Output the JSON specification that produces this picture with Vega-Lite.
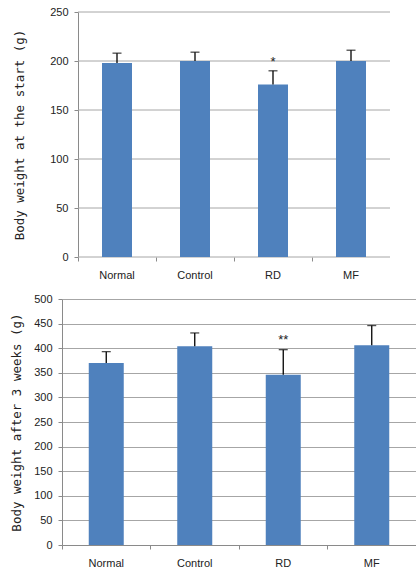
{
  "$schema": "https://vega.github.io/schema/vega-lite/v6.json",
  "background": "white",
  "padding": {"left": 10, "top": 6, "right": 0, "bottom": 0},
  "spacing": 13,
  "config": {
    "view": {"stroke": null},
    "axis": {
      "labelFont": "Liberation Sans",
      "labelFontSize": 11,
      "labelColor": "#222222",
      "labelOverlap": false,
      "titleFont": "DejaVu Sans Mono",
      "titleFontSize": 12.5,
      "titleFontWeight": "normal",
      "titleColor": "#222222",
      "domainColor": "#8a8a8a",
      "tickColor": "#8a8a8a",
      "gridColor": "#a6a6a6",
      "tickSize": 4
    }
  },
  "vconcat": [
    {
      "width": 328,
      "height": 245,
      "data": {"values": [
        {"group": "Normal", "mean": 198, "err": 208, "star": "", "starY": 0},
        {"group": "Control", "mean": 200, "err": 209, "star": "", "starY": 0},
        {"group": "RD", "mean": 176, "err": 190, "star": "*", "starY": 195},
        {"group": "MF", "mean": 200, "err": 211, "star": "", "starY": 0}
      ]},
      "layer": [
        {"data": {"values": [{"v": 0}, {"v": 50}, {"v": 100}, {"v": 150}, {"v": 200}, {"v": 250}]},
         "mark": {"type": "rule", "color": "#a6a6a6", "strokeWidth": 1},
         "encoding": {
           "x": {"datum": "Normal", "type": "nominal", "bandPosition": 0, "scale": {"domain": ["Normal", "Control", "RD", "MF"], "range": [16, 328], "paddingInner": 0, "paddingOuter": 0},
             "axis": {"title": null, "labelAngle": 0, "grid": false, "bandPosition": 0, "labelPadding": 8, "domain": false, "ticks": true}},
           "x2": {"datum": "MF", "bandPosition": 1},
           "y": {"field": "v", "type": "quantitative", "scale": {"domain": [0, 250]},
             "axis": {"title": "Body weight at the start (g)", "values": [0, 50, 100, 150, 200, 250], "grid": false, "offset": -16, "labelPadding": 6, "titlePadding": 23}}}},
        {"mark": {"type": "bar", "color": "#4F81BD", "width": 30},
         "encoding": {
           "x": {"field": "group", "type": "nominal", "sort": null, "scale": {"domain": ["Normal", "Control", "RD", "MF"], "range": [16, 328], "paddingInner": 0, "paddingOuter": 0},
             "axis": {"title": null, "labelAngle": 0, "grid": false, "bandPosition": 0, "labelPadding": 8, "domain": false, "ticks": true}},
           "y": {"field": "mean", "type": "quantitative", "scale": {"domain": [0, 250]},
             "axis": {"title": "Body weight at the start (g)", "values": [0, 50, 100, 150, 200, 250], "grid": false, "offset": -16, "labelPadding": 6, "titlePadding": 23}}}},
        {"mark": {"type": "rule", "color": "black", "strokeWidth": 1.3},
         "encoding": {
           "x": {"field": "group", "type": "nominal", "sort": null, "scale": {"domain": ["Normal", "Control", "RD", "MF"], "range": [16, 328], "paddingInner": 0, "paddingOuter": 0},
             "axis": {"title": null, "labelAngle": 0, "grid": false, "bandPosition": 0, "labelPadding": 8, "domain": false, "ticks": true}},
           "y": {"field": "mean", "type": "quantitative", "scale": {"domain": [0, 250]},
             "axis": {"title": "Body weight at the start (g)", "values": [0, 50, 100, 150, 200, 250], "grid": false, "offset": -16, "labelPadding": 6, "titlePadding": 23}},
           "y2": {"field": "err"}}},
        {"mark": {"type": "tick", "color": "black", "thickness": 1.3, "size": 9},
         "encoding": {
           "x": {"field": "group", "type": "nominal", "sort": null, "scale": {"domain": ["Normal", "Control", "RD", "MF"], "range": [16, 328], "paddingInner": 0, "paddingOuter": 0},
             "axis": {"title": null, "labelAngle": 0, "grid": false, "bandPosition": 0, "labelPadding": 8, "domain": false, "ticks": true}},
           "y": {"field": "err", "type": "quantitative", "scale": {"domain": [0, 250]},
             "axis": {"title": "Body weight at the start (g)", "values": [0, 50, 100, 150, 200, 250], "grid": false, "offset": -16, "labelPadding": 6, "titlePadding": 23}}}},
        {"mark": {"type": "text", "font": "Liberation Sans", "fontSize": 13, "color": "#222222", "baseline": "alphabetic"},
         "encoding": {
           "x": {"field": "group", "type": "nominal", "sort": null, "scale": {"domain": ["Normal", "Control", "RD", "MF"], "range": [16, 328], "paddingInner": 0, "paddingOuter": 0},
             "axis": {"title": null, "labelAngle": 0, "grid": false, "bandPosition": 0, "labelPadding": 8, "domain": false, "ticks": true}},
           "y": {"field": "starY", "type": "quantitative", "scale": {"domain": [0, 250]},
             "axis": {"title": "Body weight at the start (g)", "values": [0, 50, 100, 150, 200, 250], "grid": false, "offset": -16, "labelPadding": 6, "titlePadding": 23}},
           "text": {"field": "star"}}}
      ]
    },
    {
      "width": 354,
      "height": 246,
      "data": {"values": [
        {"group": "Normal", "mean": 370, "err": 393, "star": "", "starY": 0},
        {"group": "Control", "mean": 404, "err": 431, "star": "", "starY": 0},
        {"group": "RD", "mean": 346, "err": 397, "star": "**", "starY": 408},
        {"group": "MF", "mean": 406, "err": 446, "star": "", "starY": 0}
      ]},
      "layer": [
        {"mark": {"type": "bar", "color": "#4F81BD", "width": 35},
         "encoding": {
           "x": {"field": "group", "type": "nominal", "sort": null, "scale": {"paddingInner": 0, "paddingOuter": 0},
             "axis": {"title": null, "labelAngle": 0, "grid": false, "bandPosition": 0, "labelPadding": 8, "domain": true, "ticks": true}},
           "y": {"field": "mean", "type": "quantitative", "scale": {"domain": [0, 500]},
             "axis": {"title": "Body weight after 3 weeks (g)", "values": [0, 50, 100, 150, 200, 250, 300, 350, 400, 450, 500], "grid": true, "labelPadding": 6, "titlePadding": 10}}}},
        {"mark": {"type": "rule", "color": "black", "strokeWidth": 1.3},
         "encoding": {
           "x": {"field": "group", "type": "nominal", "sort": null, "scale": {"paddingInner": 0, "paddingOuter": 0},
             "axis": {"title": null, "labelAngle": 0, "grid": false, "bandPosition": 0, "labelPadding": 8, "domain": true, "ticks": true}},
           "y": {"field": "mean", "type": "quantitative", "scale": {"domain": [0, 500]},
             "axis": {"title": "Body weight after 3 weeks (g)", "values": [0, 50, 100, 150, 200, 250, 300, 350, 400, 450, 500], "grid": true, "labelPadding": 6, "titlePadding": 10}},
           "y2": {"field": "err"}}},
        {"mark": {"type": "tick", "color": "black", "thickness": 1.3, "size": 9},
         "encoding": {
           "x": {"field": "group", "type": "nominal", "sort": null, "scale": {"paddingInner": 0, "paddingOuter": 0},
             "axis": {"title": null, "labelAngle": 0, "grid": false, "bandPosition": 0, "labelPadding": 8, "domain": true, "ticks": true}},
           "y": {"field": "err", "type": "quantitative", "scale": {"domain": [0, 500]},
             "axis": {"title": "Body weight after 3 weeks (g)", "values": [0, 50, 100, 150, 200, 250, 300, 350, 400, 450, 500], "grid": true, "labelPadding": 6, "titlePadding": 10}}}},
        {"mark": {"type": "text", "font": "Liberation Sans", "fontSize": 13, "color": "#222222", "baseline": "alphabetic"},
         "encoding": {
           "x": {"field": "group", "type": "nominal", "sort": null, "scale": {"paddingInner": 0, "paddingOuter": 0},
             "axis": {"title": null, "labelAngle": 0, "grid": false, "bandPosition": 0, "labelPadding": 8, "domain": true, "ticks": true}},
           "y": {"field": "starY", "type": "quantitative", "scale": {"domain": [0, 500]},
             "axis": {"title": "Body weight after 3 weeks (g)", "values": [0, 50, 100, 150, 200, 250, 300, 350, 400, 450, 500], "grid": true, "labelPadding": 6, "titlePadding": 10}},
           "text": {"field": "star"}}}
      ]
    }
  ]
}
